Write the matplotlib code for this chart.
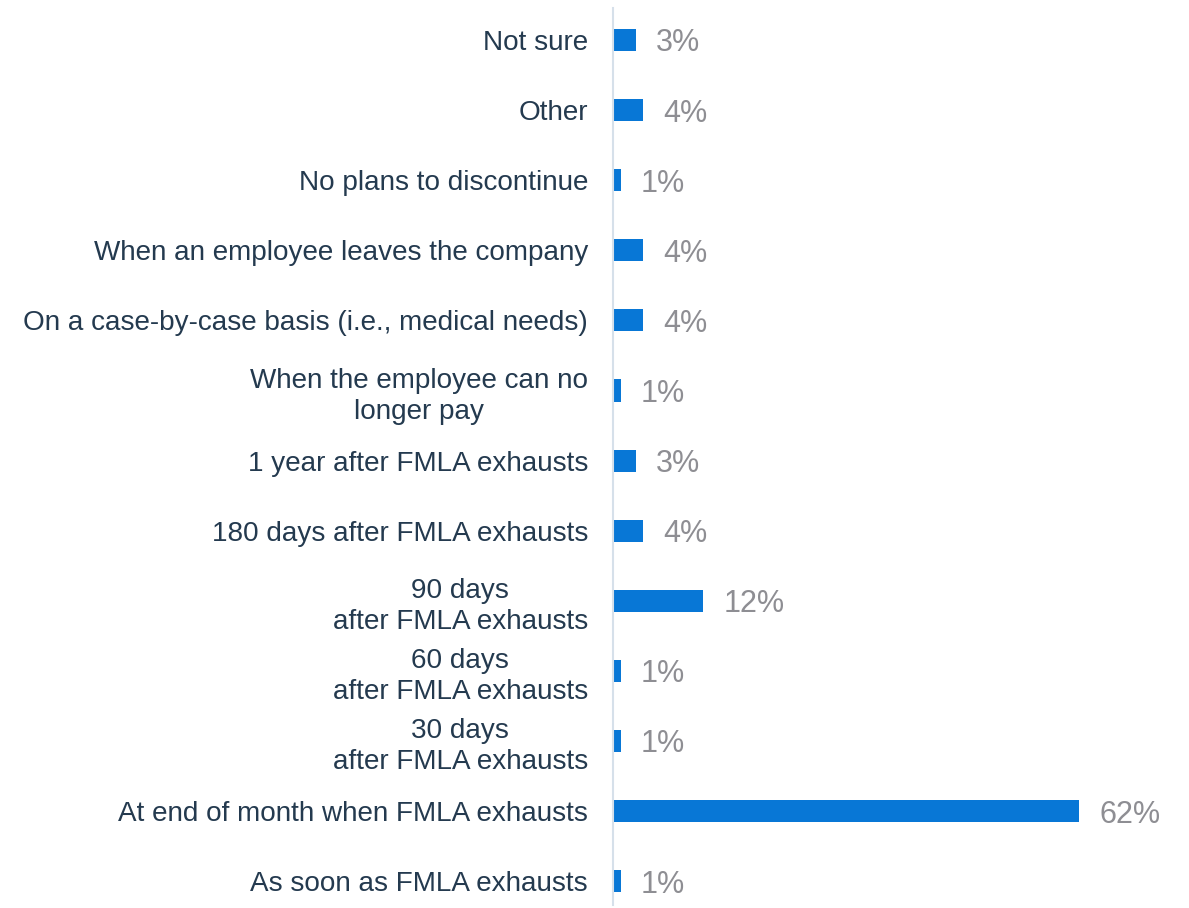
import matplotlib.pyplot as plt

# categories, top to bottom
labels = [
    "Not sure",
    "Other",
    "No plans to discontinue",
    "When an employee leaves the company",
    "On a case-by-case basis (i.e., medical needs)",
    "When the employee can no\nlonger pay",
    "1 year after FMLA exhausts",
    "180 days after FMLA exhausts",
    "90 days\nafter FMLA exhausts",
    "60 days\nafter FMLA exhausts",
    "30 days\nafter FMLA exhausts",
    "At end of month when FMLA exhausts",
    "As soon as FMLA exhausts",
]
values = [3, 4, 1, 4, 4, 1, 3, 4, 12, 1, 1, 62, 1]

plt.rcParams['font.family'] = ['Liberation Sans', 'DejaVu Sans']

fig = plt.figure(figsize=(11.89, 9.08), dpi=100)
ax = fig.add_axes([0.5156, 0.0033, 0.4424, 0.9879])

y = list(range(len(labels)))
ax.barh(y, values, height=0.314, color='#0877d6')

# value labels to the right of each bar
for yi, v in zip(y, values):
    ax.annotate(f"{v}%", xy=(v, yi), xytext=(14.5, -2.5), textcoords='offset points',
                va='center', ha='left', fontsize=22, color='#8e8e93')

ax.set_yticks(y)
ax.set_yticklabels(labels, fontsize=20.1, color='#243a4f', multialignment='center',
                   linespacing=1.25)
ax.tick_params(axis='y', length=0, pad=18)
ax.set_xticks([])
ax.set_xlim(0, 70)
ax.set_ylim(len(labels) - 1 + 0.34, -0.457)

for s in ['top', 'right', 'bottom']:
    ax.spines[s].set_visible(False)
ax.spines['left'].set_color('#d6e0ea')
ax.spines['left'].set_linewidth(1.5)

fig.savefig('out.png', dpi=100)
